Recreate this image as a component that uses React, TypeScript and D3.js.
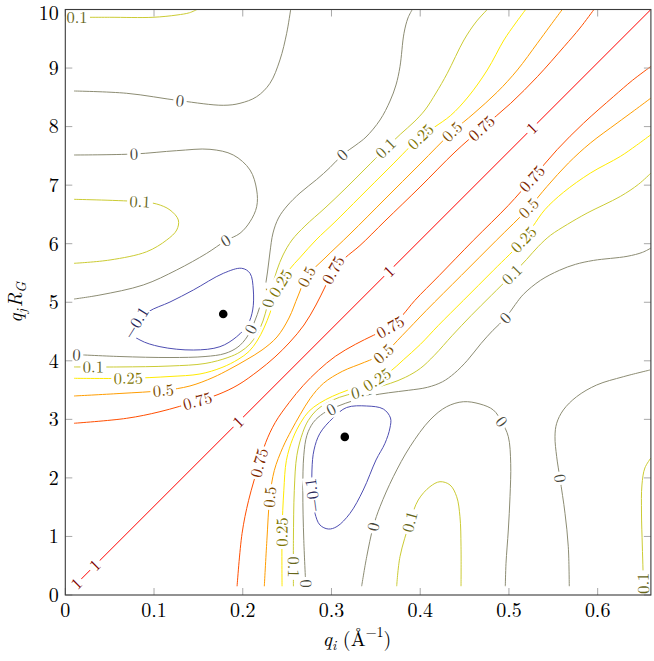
import React from 'react';
import * as d3 from 'd3';

// ---------- axes ----------
const X_DOMAIN = [0, 0.66];
const Y_DOMAIN = [0, 10];
const X_TICKS = [0, 0.1, 0.2, 0.3, 0.4, 0.5, 0.6];
const Y_TICKS = [0, 1, 2, 3, 4, 5, 6, 7, 8, 9, 10];

// contour levels and colour-map range (pgfplots "hot": blue, yellow, orange, red)
const LEVELS = [-0.1, 0, 0.1, 0.25, 0.5, 0.75, 1];
const META_MIN = -0.224;
const META_MAX = 1;

// ---------- contour lines (x in 1/Å, y in q_j R_G) ----------
// level -0.1
const C_M01_UPPER = [[0.0932,4.834],[0.1180,5.004],[0.1443,5.209],[0.1781,5.494],[0.1988,5.580],[0.2082,5.494],[0.2119,5.209],[0.2112,4.868],[0.2059,4.628],[0.1932,4.412],[0.1743,4.241],[0.1443,4.184],[0.1067,4.241],[0.0842,4.355],[0.0707,4.526]];
const C_M01_LOWER = [[0.3017,3.023],[0.3171,3.202],[0.3397,3.228],[0.3584,3.177],[0.3665,3.023],[0.3659,2.852],[0.3603,2.591],[0.3502,2.306],[0.3358,1.793],[0.3209,1.395],[0.3062,1.170],[0.2964,1.127],[0.2870,1.196],[0.2814,1.395],[0.2786,1.708],[0.2780,2.135],[0.2803,2.477],[0.2870,2.762]];
// level 0
const C_0_TOP = [[0.0098,8.608],[0.0692,8.569],[0.1293,8.442],[0.1780,8.364],[0.1969,8.398],[0.2157,8.511],[0.2307,8.740],[0.2419,9.138],[0.2495,9.594],[0.2540,10.0]];
const C_0_BEND = [[0.0098,7.515],[0.0774,7.532],[0.1255,7.589],[0.1631,7.612],[0.1893,7.515],[0.2082,7.259],[0.2157,6.917],[0.2157,6.632],[0.2082,6.376],[0.1969,6.178],[0.1808,6.051],[0.1594,5.836],[0.1255,5.551],[0.0879,5.295],[0.0391,5.124],[0.0098,5.055]];
const C_0_UL = [[0.0098,4.108],[0.0616,4.073],[0.1180,4.056],[0.1575,4.073],[0.1800,4.125],[0.1946,4.236],[0.2048,4.407],[0.2127,4.646],[0.2195,4.936],[0.2245,5.209],[0.2279,5.517],[0.2307,5.858],[0.2341,6.183],[0.2403,6.439],[0.2499,6.644],[0.2645,6.866],[0.2833,7.097],[0.2983,7.301],[0.3122,7.515],[0.3276,7.686],[0.3389,7.822],[0.3547,8.113],[0.3660,8.437],[0.3727,8.711],[0.3772,9.023],[0.3817,9.593],[0.3862,9.855],[0.3911,10.0]];
const C_0_LR = [[0.2711,0.149],[0.2688,0.934],[0.2677,1.788],[0.2688,2.386],[0.2723,2.727],[0.2796,2.949],[0.2909,3.103],[0.3066,3.222],[0.3258,3.325],[0.3438,3.402],[0.3641,3.453],[0.3866,3.496],[0.4081,3.547],[0.4250,3.641],[0.4385,3.786],[0.4532,4.008],[0.4684,4.293],[0.4819,4.520],[0.4960,4.730],[0.5073,4.964],[0.5163,5.135],[0.5355,5.374],[0.5568,5.545],[0.5749,5.647],[0.5955,5.715],[0.6331,5.784],[0.6504,5.852],[0.66,5.925]];
const C_0_ARCH = [[0.3340,0.15],[0.3397,0.654],[0.3471,1.167],[0.3547,1.508],[0.3697,2.020],[0.3885,2.533],[0.4110,2.989],[0.4298,3.216],[0.4486,3.301],[0.4674,3.262],[0.4824,3.160],[0.4918,2.960],[0.4993,2.704],[0.5020,2.249],[0.5012,1.679],[0.4993,1.110],[0.4967,0.541],[0.4959,0.15]];
const C_0_RIGHT = [[0.5680,0.15],[0.5669,0.825],[0.5632,1.395],[0.5575,1.993],[0.5538,2.362],[0.5519,2.704],[0.5538,2.933],[0.5613,3.160],[0.5763,3.387],[0.5989,3.587],[0.6289,3.728],[0.6590,3.843]];
// level 0.1
const C_01_CORNER_TL = [[0.0098,9.867],[0.0500,9.867],[0.0988,9.867],[0.1259,9.906],[0.1400,9.945],[0.1484,10.0]];
const C_01_LOOP_L = [[0.0098,6.758],[0.0842,6.717],[0.1030,6.678],[0.1180,6.576],[0.1274,6.405],[0.1256,6.234],[0.1143,6.063],[0.0917,5.863],[0.0504,5.722],[0.0098,5.665]];
const C_01_UL = [[0.0098,3.895],[0.0616,3.895],[0.1180,3.911],[0.1575,3.954],[0.1833,4.056],[0.1969,4.150],[0.2082,4.287],[0.2161,4.458],[0.2228,4.680],[0.2279,4.953],[0.2330,5.260],[0.2386,5.551],[0.2454,5.807],[0.2555,6.063],[0.2701,6.302],[0.2927,6.610],[0.3152,6.934],[0.3378,7.276],[0.3611,7.629],[0.3780,7.874],[0.3930,8.079],[0.4054,8.284],[0.4178,8.574],[0.4305,8.910],[0.4493,9.479],[0.4629,9.787],[0.4756,10.0]];
const C_01_LR = [[0.2571,0.149],[0.2571,0.934],[0.2581,1.788],[0.2610,2.386],[0.2677,2.778],[0.2739,2.983],[0.2829,3.154],[0.2942,3.274],[0.3089,3.376],[0.3269,3.453],[0.3472,3.530],[0.3664,3.615],[0.3833,3.718],[0.4002,3.871],[0.4159,4.093],[0.4363,4.435],[0.4576,4.776],[0.4802,5.118],[0.5035,5.471],[0.5197,5.728],[0.5332,5.955],[0.5467,6.142],[0.5659,6.330],[0.5881,6.523],[0.6256,6.808],[0.6459,7.013],[0.66,7.206]];
const C_01_LOOP_B = [[0.3735,0.15],[0.3772,0.654],[0.3885,1.252],[0.3978,1.623],[0.4110,1.850],[0.4223,1.935],[0.4336,1.879],[0.4411,1.679],[0.4448,1.337],[0.4460,0.825],[0.4460,0.15]];
const C_01_CORNER_BR = [[0.66,2.34],[0.6532,2.169],[0.6499,1.879],[0.6494,1.400],[0.6503,0.854],[0.6511,0.427],[0.6514,0.15]];
// level 0.25
const C_025_UL = [[0.0098,3.701],[0.0710,3.701],[0.1180,3.732],[0.1518,3.775],[0.1766,3.886],[0.1946,4.022],[0.2070,4.159],[0.2161,4.338],[0.2239,4.560],[0.2307,4.816],[0.2363,5.073],[0.2427,5.324],[0.2521,5.551],[0.2650,5.771],[0.2825,6.063],[0.3039,6.371],[0.3321,6.798],[0.3660,7.310],[0.4006,7.828],[0.4155,7.985],[0.4343,8.190],[0.4539,8.506],[0.4756,8.967],[0.4944,9.479],[0.5068,9.752],[0.5189,10.0]];
const C_025_LR = [[0.2443,0.149],[0.2443,1.076],[0.2463,1.788],[0.2492,2.300],[0.2565,2.676],[0.2655,2.949],[0.2745,3.137],[0.2863,3.274],[0.3010,3.393],[0.3179,3.496],[0.3348,3.581],[0.3514,3.678],[0.3664,3.820],[0.3809,4.015],[0.4002,4.281],[0.4205,4.605],[0.4487,5.032],[0.4825,5.545],[0.5166,6.069],[0.5270,6.296],[0.5405,6.581],[0.5614,6.877],[0.5918,7.206],[0.6256,7.491],[0.6436,7.679],[0.66,7.862]];
// level 0.5
const C_05_UL = [[0.0098,3.399],[0.0616,3.442],[0.1105,3.493],[0.1405,3.570],[0.1665,3.715],[0.1856,3.860],[0.2037,4.014],[0.2217,4.184],[0.2386,4.407],[0.2521,4.731],[0.2623,5.107],[0.2721,5.436],[0.2927,5.756],[0.3209,6.166],[0.3603,6.763],[0.3998,7.361],[0.4362,7.913],[0.4606,8.227],[0.4869,8.591],[0.5095,8.967],[0.5320,9.423],[0.5463,9.718],[0.5601,10.0]];
const C_05_LR = [[0.2243,0.149],[0.2272,0.934],[0.2305,1.674],[0.2356,2.129],[0.2452,2.522],[0.2548,2.812],[0.2649,3.086],[0.2761,3.359],[0.2909,3.615],[0.3122,3.820],[0.3371,3.974],[0.3588,4.122],[0.3799,4.435],[0.4070,4.862],[0.4464,5.459],[0.4858,6.057],[0.5223,6.609],[0.5430,6.979],[0.5670,7.377],[0.5918,7.719],[0.6219,8.060],[0.6414,8.277],[0.66,8.487]];
// level 0.75
const C_075_UL = [[0.0098,2.933],[0.0692,3.018],[0.1067,3.131],[0.1490,3.313],[0.1721,3.424],[0.1946,3.587],[0.2172,3.826],[0.2363,4.065],[0.2532,4.321],[0.2690,4.611],[0.2825,4.953],[0.2927,5.260],[0.3021,5.551],[0.3152,5.756],[0.3321,5.969],[0.3603,6.388],[0.3998,6.968],[0.4392,7.566],[0.4693,7.971],[0.5020,8.398],[0.5320,8.852],[0.5621,9.365],[0.5801,9.684],[0.5958,10.0]];
const C_075_LR = [[0.1936,0.149],[0.1992,1.049],[0.2066,1.617],[0.2187,2.258],[0.2260,2.608],[0.2367,2.949],[0.2525,3.291],[0.2683,3.581],[0.2852,3.837],[0.3043,4.076],[0.3269,4.281],[0.3472,4.435],[0.3664,4.577],[0.3799,4.776],[0.3940,5.032],[0.4216,5.459],[0.4599,6.057],[0.4994,6.655],[0.5261,7.111],[0.5543,7.606],[0.5842,8.060],[0.6181,8.516],[0.6391,8.789],[0.66,9.028]];
// level 1
const C_1_DIAG = [[0.0099,0.15],[0.66,10.0]];

// ---------- contour labels ----------
const LABELS = [
  { level: 0.1, x: 0.0132, y: 9.867 },
  { level: 0, x: 0.1293, y: 8.442 },
  { level: 0, x: 0.0774, y: 7.532 },
  { level: 0, x: 0.1808, y: 6.051 },
  { level: 0.1, x: 0.0842, y: 6.717 },
  { level: -0.1, x: 0.0798, y: 4.646 },
  { level: 0, x: 0.0128, y: 4.099 },
  { level: 0.1, x: 0.0316, y: 3.899 },
  { level: 0.25, x: 0.0710, y: 3.701 },
  { level: 0.5, x: 0.1104, y: 3.493 },
  { level: 0.75, x: 0.1490, y: 3.313 },
  { level: 0, x: 0.2110, y: 4.526 },
  { level: 0.1, x: 0.2305, y: 5.090 },
  { level: 0.25, x: 0.2428, y: 5.324 },
  { level: 0.5, x: 0.2721, y: 5.436 },
  { level: 0.75, x: 0.3020, y: 5.551 },
  { level: 0, x: 0.3122, y: 7.515 },
  { level: 0.1, x: 0.3611, y: 7.629 },
  { level: 0.25, x: 0.4005, y: 7.828 },
  { level: 0.5, x: 0.4362, y: 7.913 },
  { level: 0.75, x: 0.4693, y: 7.971 },
  { level: 1, x: 0.0128, y: 0.194 },
  { level: 1, x: 0.0335, y: 0.507 },
  { level: 1, x: 0.1950, y: 2.954 },
  { level: 1, x: 0.3648, y: 5.527 },
  { level: 1, x: 0.5263, y: 7.970 },
  { level: 0.75, x: 0.5261, y: 7.111 },
  { level: 0.5, x: 0.5223, y: 6.609 },
  { level: 0.25, x: 0.5166, y: 6.068 },
  { level: 0.1, x: 0.5035, y: 5.471 },
  { level: 0, x: 0.4960, y: 4.730 },
  { level: 0.75, x: 0.3664, y: 4.576 },
  { level: 0.5, x: 0.3588, y: 4.123 },
  { level: 0.1, x: 0.3340, y: 3.480 },
  { level: 0.25, x: 0.3514, y: 3.679 },
  { level: 0, x: 0.2987, y: 3.197 },
  { level: 0.75, x: 0.2187, y: 2.258 },
  { level: 0.5, x: 0.2305, y: 1.673 },
  { level: 0.25, x: 0.2443, y: 1.076 },
  { level: 0.1, x: 0.2573, y: 0.479, flip: true },
  { level: 0, x: 0.2705, y: 0.194, flip: true },
  { level: -0.1, x: 0.2795, y: 1.708, flip: true },
  { level: 0, x: 0.3471, y: 1.167 },
  { level: 0.1, x: 0.3885, y: 1.252 },
  { level: 0, x: 0.4918, y: 2.960 },
  { level: 0, x: 0.5575, y: 1.993 },
  { level: 0.1, x: 0.6514, y: 0.200, flip: true },
];

// the two marked minima
const MINIMA = [[0.178, 4.8], [0.315, 2.7]];

const CONTOURS = [
  { level: -0.1, pts: C_M01_UPPER, closed: true },
  { level: -0.1, pts: C_M01_LOWER, closed: true },
  { level: 0, pts: C_0_TOP }, { level: 0, pts: C_0_BEND }, { level: 0, pts: C_0_UL },
  { level: 0, pts: C_0_LR }, { level: 0, pts: C_0_ARCH }, { level: 0, pts: C_0_RIGHT },
  { level: 0.1, pts: C_01_CORNER_TL }, { level: 0.1, pts: C_01_LOOP_L }, { level: 0.1, pts: C_01_UL },
  { level: 0.1, pts: C_01_LR }, { level: 0.1, pts: C_01_LOOP_B }, { level: 0.1, pts: C_01_CORNER_BR },
  { level: 0.25, pts: C_025_UL }, { level: 0.25, pts: C_025_LR },
  { level: 0.5, pts: C_05_UL }, { level: 0.5, pts: C_05_LR },
  { level: 0.75, pts: C_075_UL }, { level: 0.75, pts: C_075_LR },
  { level: 1, pts: C_1_DIAG },
];

// ---------- layout ----------
const W = 654, H = 661;
const LEFT = 65.3, RIGHT = 650.9, TOP = 9.5, BOTTOM = 595;
const FONT = "'Latin Modern Roman', 'CMU Serif', 'Liberation Serif', 'DejaVu Serif', serif";
const TICK_FS = 20;
const LABEL_FS = 16.5;

const sx = d3.scaleLinear().domain(X_DOMAIN).range([LEFT, RIGHT]);
const sy = d3.scaleLinear().domain(Y_DOMAIN).range([BOTTOM, TOP]);

const cmap = d3.scaleLinear<string>()
  .domain([0, 1 / 3, 2 / 3, 1])
  .range(['#0000ff', '#ffff00', '#ff8000', '#ff0000'])
  .interpolate(d3.interpolateRgb);
const lineColor = (v: number) => cmap((v - META_MIN) / (META_MAX - META_MIN));
const labelColor = (v: number) => d3.interpolateRgb(lineColor(v), '#000000')(0.5);

const fmt = (v: number) => (v < 0 ? '\u2212' + String(-v) : String(v));

let _ctx: any = null;
function textWidth(s: string, size: number) {
  if (typeof document !== 'undefined') {
    if (!_ctx) _ctx = document.createElement('canvas').getContext('2d');
    if (_ctx) {
      _ctx.font = `${size}px 'Liberation Serif'`;
      return _ctx.measureText(s).width;
    }
  }
  return s.length * size * 0.5;
}

function placeLabel(lbl: any) {
  const tx = sx(lbl.x), ty = sy(lbl.y);
  let best = { d: Infinity, x: tx, y: ty, ang: 0 };
  for (const c of CONTOURS) {
    if (c.level !== lbl.level) continue;
    const pts = c.pts.map((p) => [sx(p[0]), sy(p[1])]);
    if ((c as any).closed) pts.push(pts[0]);
    const n = pts.length;
    for (let i = 0; i < n - 1; i++) {
      const [x1, y1] = pts[i], [x2, y2] = pts[i + 1];
      const dx = x2 - x1, dy = y2 - y1;
      const L2 = dx * dx + dy * dy;
      let t = L2 ? ((tx - x1) * dx + (ty - y1) * dy) / L2 : 0;
      t = Math.max(0, Math.min(1, t));
      const px = x1 + t * dx, py = y1 + t * dy;
      const d = (px - tx) ** 2 + (py - ty) ** 2;
      if (d < best.d) {
        const a = pts[Math.max(0, i - 1)], b = pts[Math.min(n - 1, i + 2)];
        const ang0 = Math.atan2(dy, dx);
        const ang1 = Math.atan2(b[1] - a[1], b[0] - a[0]);
        const ax = Math.cos(ang0) + Math.cos(ang1), ay = Math.sin(ang0) + Math.sin(ang1);
        best = { d, x: px, y: py, ang: (Math.atan2(ay, ax) * 180) / Math.PI };
      }
    }
  }
  let a = best.ang;
  while (a >= 90) a -= 180;
  while (a < -90) a += 180;
  if (lbl.flip) a += 180;
  return { x: best.x, y: best.y, ang: a };
}

export default function App() {
  const path = d3.line<number[]>().x((d) => sx(d[0])).y((d) => sy(d[1])).curve(d3.curveCatmullRom.alpha(0.5));
  const pathClosed = d3.line<number[]>().x((d) => sx(d[0])).y((d) => sy(d[1])).curve(d3.curveCatmullRomClosed.alpha(0.5));

  return (
    <svg width={W} height={H} viewBox={`0 0 ${W} ${H}`} style={{ position: 'absolute', left: 0, top: 0, background: '#fff' }} fontFamily={FONT}>
      <defs>
        <clipPath id="plotclip">
          <rect x={LEFT} y={TOP} width={RIGHT - LEFT} height={BOTTOM - TOP} />
        </clipPath>
      </defs>
      <rect x={0} y={0} width={W} height={H} fill="#fff" />

      {/* contour lines */}
      <g clipPath="url(#plotclip)" fill="none" strokeWidth={1} strokeLinejoin="round">
        {CONTOURS.map((c, i) => (
          <path key={i} d={((c as any).closed ? pathClosed : path)(c.pts) || ''} stroke={lineColor(c.level)} />
        ))}
      </g>

      {/* contour labels */}
      <g>
        {LABELS.map((l, i) => {
          const p = placeLabel(l);
          const s = fmt(l.level);
          const w = textWidth(s, LABEL_FS);
          const padX = 2.6, h = LABEL_FS * 0.7 + 5;
          return (
            <g key={i} transform={`translate(${p.x},${p.y}) rotate(${p.ang})`}>
              <rect x={-w / 2 - padX} y={-h / 2} width={w + 2 * padX} height={h} fill="#fff" />
              <text x={0} y={LABEL_FS * 0.33} textAnchor="middle" fontSize={LABEL_FS} fill={labelColor(l.level)}>{s}</text>
            </g>
          );
        })}
      </g>

      {/* minima */}
      {MINIMA.map((m, i) => (
        <circle key={i} cx={sx(m[0])} cy={sy(m[1])} r={4.3} fill="#000" />
      ))}

      {/* ticks (inside, on all four sides) */}
      <g stroke="#a8a8a8" strokeWidth={1}>
        {X_TICKS.map((t) => (
          <g key={'xt' + t}>
            <line x1={sx(t)} x2={sx(t)} y1={BOTTOM} y2={BOTTOM - 7} />
            <line x1={sx(t)} x2={sx(t)} y1={TOP} y2={TOP + 7} />
          </g>
        ))}
        {Y_TICKS.map((t) => (
          <g key={'yt' + t}>
            <line x1={LEFT} x2={LEFT + 7} y1={sy(t)} y2={sy(t)} />
            <line x1={RIGHT} x2={RIGHT - 7} y1={sy(t)} y2={sy(t)} />
          </g>
        ))}
      </g>

      {/* frame */}
      <rect x={LEFT} y={TOP} width={RIGHT - LEFT} height={BOTTOM - TOP} fill="none" stroke="#3a3a3a" strokeWidth={1.1} />

      {/* tick labels */}
      <g fontSize={TICK_FS} fill="#000">
        {X_TICKS.map((t) => (
          <text key={'xl' + t} x={sx(t)} y={BOTTOM + 22} textAnchor="middle">{String(t)}</text>
        ))}
        {Y_TICKS.map((t) => (
          <text key={'yl' + t} x={LEFT - 6.5} y={Math.max(sy(t) + 6.8, 20)} textAnchor="end">{String(t)}</text>
        ))}
      </g>

      {/* axis titles */}
      <text x={357} y={646} textAnchor="middle" fontSize={20} fill="#000">
        <tspan fontStyle="italic">q</tspan>
        <tspan fontStyle="italic" fontSize={14} dy={4}>i</tspan>
        <tspan dy={-4}>{' (\u00C5'}</tspan>
        <tspan fontSize={14} dy={-9}>{'\u22121'}</tspan>
        <tspan dy={9}>)</tspan>
      </text>
      <text transform={`translate(22,${(TOP + BOTTOM) / 2}) rotate(-90)`} textAnchor="middle" fontSize={20} fill="#000">
        <tspan fontStyle="italic">q</tspan>
        <tspan fontStyle="italic" fontSize={14} dy={4}>j</tspan>
        <tspan fontStyle="italic" dy={-4} dx={2}>R</tspan>
        <tspan fontStyle="italic" fontSize={14} dy={4}>G</tspan>
      </text>
    </svg>
  );
}
